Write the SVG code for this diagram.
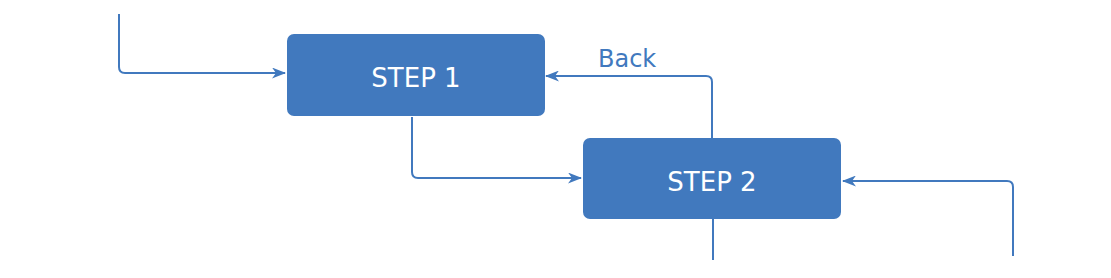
<svg xmlns="http://www.w3.org/2000/svg" width="1111" height="278" viewBox="0 0 1111 278">
<style>
.box{fill:#4179BE}
.lbl{fill:#ffffff;font-family:"DejaVu Sans",sans-serif;font-size:26px;text-anchor:middle}
.edge{fill:none;stroke:#4179BE;stroke-width:2;stroke-linejoin:round}
.elbl{fill:#4179BE;font-family:"DejaVu Sans",sans-serif;font-size:24px}
</style>
<defs>
<marker id="arr" viewBox="0 0 14 11" refX="13" refY="5.5" markerWidth="14" markerHeight="11" markerUnits="userSpaceOnUse" orient="auto">
<path d="M0,0 L14,5.5 L0,11 L4,5.5 Z" fill="#4179BE"/>
</marker>
</defs>
<g id="connectors">
<path class="edge" d="M119,14 V67 Q119,73 125,73 H285" marker-end="url(#arr)"/>
<path class="edge" d="M412,117 V172 Q412,178 418,178 H581" marker-end="url(#arr)"/>
<path class="edge" d="M712,138 V82 Q712,76 706,76 H546" marker-end="url(#arr)"/>
<path class="edge" d="M713,219 V260"/>
<path class="edge" d="M1013,256 V187 Q1013,181 1007,181 H843" marker-end="url(#arr)"/>
<text class="elbl" x="598" y="67">Back</text>
</g>
<g id="step1">
<rect class="box" x="287" y="34" width="258" height="82" rx="7"/>
<text class="lbl" x="416" y="87">STEP 1</text>
</g>
<g id="step2">
<rect class="box" x="583" y="138" width="258" height="81" rx="7"/>
<text class="lbl" x="712" y="191">STEP 2</text>
</g>
</svg>
